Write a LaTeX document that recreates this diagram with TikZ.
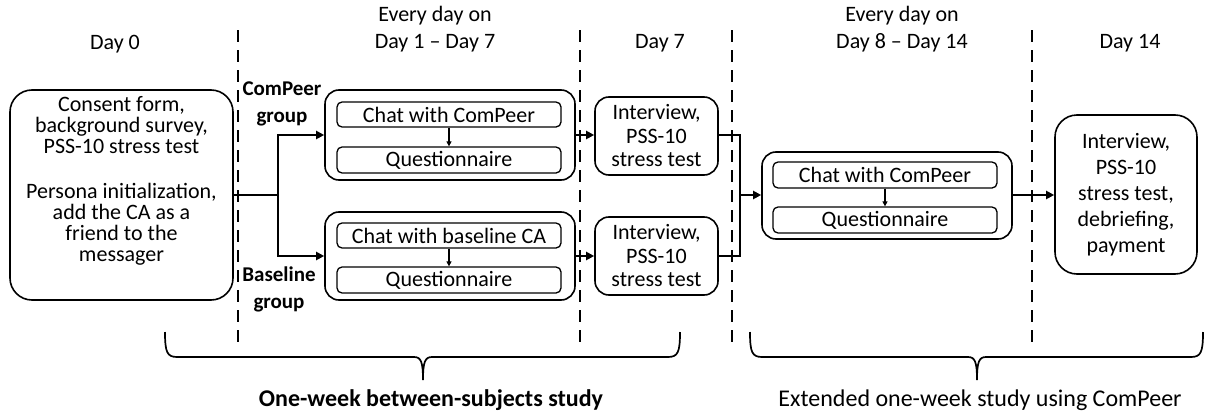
\documentclass[tikz,border=0pt]{standalone}
\usepackage{fontspec}
\setmainfont{Carlito}
\usetikzlibrary{arrows.meta}
\tikzset{
  txt/.style={font=\fontsize{22}{22}\selectfont, align=center, inner sep=0pt},
  bigbox/.style={draw, line width=1.6pt, rounded corners=22pt, inner sep=0pt},
  grpbox/.style={draw, line width=1.6pt, rounded corners=14pt, inner sep=0pt},
  inbox/.style={draw, line width=1.3pt, rounded corners=5pt, inner sep=0pt, font=\fontsize{22}{22}\selectfont},
  conn/.style={line width=2.8pt},
  carrow/.style={line width=2.8pt, -{Triangle[length=8pt,width=8pt]}},
  sarrow/.style={line width=1.3pt, -{Triangle[length=5pt,width=5pt]}},
  divider/.style={line width=2.8pt, dash pattern=on 12pt off 8pt},
  bracepath/.style={line width=1.7pt},
}
\begin{document}
\begin{tikzpicture}[x=1pt,y=-1pt]
\useasboundingbox (0,0) rectangle (1205,415);
% dividers
\foreach \xx in {238,580,732,1032}{\draw[divider] (\xx,30) -- (\xx,346);}
% headers
\node[txt] (h0) at (115,44) {Day 0};
\node[txt, font=\fontsize{22}{27}\selectfont] (h1) at (435,29) {Every day on\\Day 1 -- Day 7};
\node[txt] (h2) at (660,43) {Day 7};
\node[txt, font=\fontsize{22}{27}\selectfont] (h3) at (902,29) {Every day on\\Day 8 -- Day 14};
\node[txt] (h4) at (1130,43) {Day 14};
% day 0 box
\node[bigbox, minimum width=223pt, minimum height=210pt] (d0) at (121.5,195) {};
\node[txt, font=\fontsize{22}{21}\selectfont] (d0t) at (121.5,181) {Consent form,\\background survey,\\PSS-10 stress test\\[24pt]Persona initialization,\\add the CA as a\\friend to the\\messager};
% group labels
\node[txt, font=\bfseries\fontsize{21}{27}\selectfont] (lc) at (282,104) {ComPeer\\group};
\node[txt, font=\bfseries\fontsize{21}{27}\selectfont] (lb) at (279,289) {Baseline\\group};
% group 1
\node[grpbox, minimum width=250pt, minimum height=90pt] (g1) at (450,135) {};
\node[inbox, minimum width=224pt, minimum height=25pt] (g1c) at (449,114.5) {Chat with ComPeer};
\node[inbox, minimum width=224pt, minimum height=26pt] (g1q) at (449,160) {Questionnaire};
% group 2
\node[grpbox, minimum width=250pt, minimum height=88pt] (g2) at (450,256) {};
\node[inbox, minimum width=224pt, minimum height=25pt] (g2c) at (449,235.5) {Chat with baseline CA};
\node[inbox, minimum width=224pt, minimum height=26pt] (g2q) at (449,280) {Questionnaire};
% interviews
\node[grpbox, minimum width=123pt, minimum height=78pt, txt, font=\fontsize{22}{23.5}\selectfont] (i1) at (656.5,136) {Interview,\\PSS-10\\stress test};
\node[grpbox, minimum width=123pt, minimum height=78pt, txt, font=\fontsize{22}{23.5}\selectfont] (i2) at (656.5,256) {Interview,\\PSS-10\\stress test};
% group 3
\node[grpbox, minimum width=250pt, minimum height=87pt] (g3) at (887,195.5) {};
\node[inbox, minimum width=224pt, minimum height=26pt] (g3c) at (885,175) {Chat with ComPeer};
\node[inbox, minimum width=224pt, minimum height=26pt] (g3q) at (885,220) {Questionnaire};
% final
\node[bigbox, minimum width=142pt, minimum height=159pt, txt, font=\fontsize{22}{26}\selectfont] (fin) at (1126,194.5) {Interview,\\PSS-10\\stress test,\\debriefing,\\payment};
% connectors
\coordinate (split) at (278,195);
\draw[conn] (d0.east |- split) -- (split);
\draw[carrow] (split) |- (g1.west);
\draw[carrow] (split) |- (g2.west);
\draw[sarrow] (g1c) -- (g1q);
\draw[sarrow] (g2c) -- (g2q);
\draw[sarrow] (g3c) -- (g3q);
\draw[carrow] (g1.east) -- (g1.east -| i1.west);
\draw[carrow] (g2.east) -- (g2.east -| i2.west);
\coordinate (merge) at (740,195);
\draw[conn] (i1.east |- g1.east) -| (merge);
\draw[conn] (i2.east |- g2.east) -| (merge);
\draw[carrow] (merge) -- (g3.west |- merge);
\draw[carrow] (g3.east |- merge) -- (fin.west |- merge);
% braces
\coordinate (b1l) at (165,332);
\coordinate (b1r) at (680,332);
\coordinate (b1t) at (423,380);
\draw[bracepath] (b1l) .. controls (165,352) and (167,357) .. (177,357) -- (414,357) .. controls (421,357) and (423,362) .. (b1t)
  (b1t) .. controls (423,362) and (425,357) .. (432,357) -- (668,357) .. controls (678,357) and (680,352) .. (b1r);
\coordinate (b2l) at (750,332);
\coordinate (b2r) at (1203,332);
\coordinate (b2t) at (977,380);
\draw[bracepath] (b2l) .. controls (750,352) and (752,357) .. (762,357) -- (968,357) .. controls (975,357) and (977,362) .. (b2t)
  (b2t) .. controls (977,362) and (979,357) .. (986,357) -- (1191,357) .. controls (1201,357) and (1203,352) .. (b2r);
\node[txt, font=\bfseries\fontsize{24}{24}\selectfont] (s1) at (431,400) {One-week between-subjects study};
\node[txt, font=\fontsize{24}{24}\selectfont] (s2) at (980,400) {Extended one-week study using ComPeer};
\end{tikzpicture}
\end{document}
